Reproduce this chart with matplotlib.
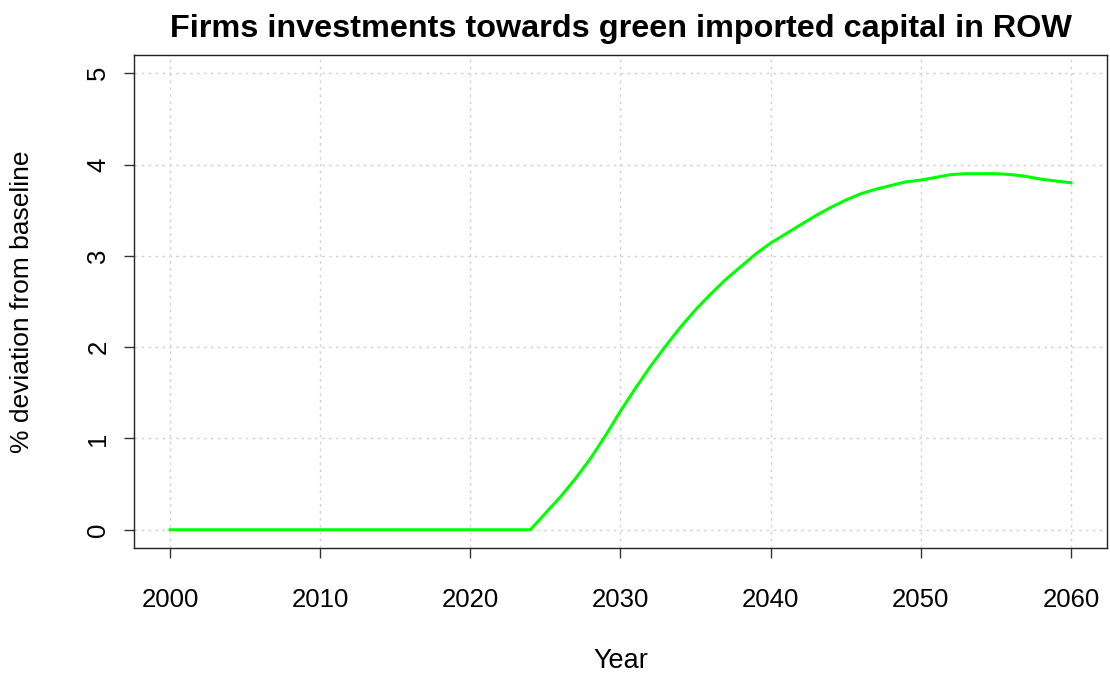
import matplotlib
matplotlib.use("Agg")
import matplotlib.pyplot as plt
import numpy as np

plt.rcParams["font.family"] = ["Liberation Sans", "DejaVu Sans"]

years = list(range(2000, 2061))
values = [0.0] * 25 + [
    0.18, 0.36, 0.56, 0.78, 1.03, 1.30, 1.55, 1.79, 2.01, 2.22,
    2.41, 2.58, 2.74, 2.88, 3.02, 3.14, 3.24, 3.34, 3.44, 3.53,
    3.61, 3.68, 3.73, 3.77, 3.81, 3.83, 3.86, 3.89, 3.90, 3.90,
    3.90, 3.89, 3.87, 3.84, 3.82, 3.80,
]

x_ticks = [2000, 2010, 2020, 2030, 2040, 2050, 2060]
y_ticks = [0, 1, 2, 3, 4, 5]

fig = plt.figure(figsize=(11.1, 6.78), dpi=100)
ax = fig.add_axes([0.1207, 0.1917, 0.8766, 0.7272])

ax.plot(years, values, color="#00FF00", linewidth=2.2)

ax.set_xlim(1997.6, 2062.4)
ax.set_ylim(-0.2, 5.2)
ax.set_xticks(x_ticks)
ax.set_yticks(y_ticks)
ax.set_yticklabels([str(v) for v in y_ticks], rotation=90, va="center")
ax.tick_params(axis="both", labelsize=18.5, length=7, width=1, color="#333333")
ax.tick_params(axis="x", pad=22)
ax.tick_params(axis="y", pad=10)

ax.grid(True, color="#d3d3d3", linestyle=(0, (2, 3)), linewidth=1)
for sp in ax.spines.values():
    sp.set_color("#222222")
    sp.set_linewidth(1)

ax.set_title("Firms investments towards green imported capital in ROW",
             fontsize=23.3, fontweight="bold", pad=13)
ax.set_xlabel("Year", fontsize=19.5, labelpad=26)
ax.set_ylabel("% deviation from baseline", fontsize=19, labelpad=38)

fig.savefig("out.png", dpi=100, facecolor="white")
